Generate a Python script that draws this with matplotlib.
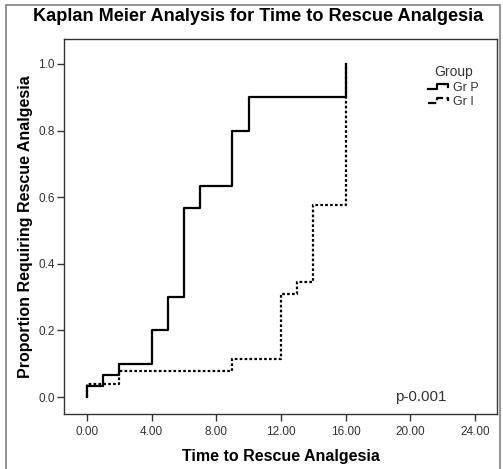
import matplotlib.pyplot as plt
from matplotlib.legend_handler import HandlerBase
from matplotlib.lines import Line2D
from matplotlib.patches import Rectangle

plt.rcParams["font.family"] = ["Liberation Sans", "DejaVu Sans"]

# Kaplan-Meier steps (time, cumulative proportion requiring rescue analgesia)
time_p = [0, 0, 1, 2, 4, 5, 6, 7, 9, 10, 16, 16]
prop_p = [0, 0.033, 0.067, 0.1, 0.2, 0.3, 0.567, 0.633, 0.8, 0.9, 0.9, 1.0]

time_i = [0, 0, 2, 9, 12, 13, 14, 16, 16]
prop_i = [0, 0.038, 0.077, 0.115, 0.308, 0.346, 0.577, 0.577, 1.0]

groups = ["Gr P", "Gr I"]
x_ticks = [0, 4, 8, 12, 16, 20, 24]
y_ticks = [0.0, 0.2, 0.4, 0.6, 0.8, 1.0]


class StepHandler(HandlerBase):
    # small step glyph like the SPSS legend
    def create_artists(self, legend, orig, xd, yd, w, h, fontsize, trans):
        xs = [xd, xd + 0.45 * w, xd + 0.45 * w, xd + w, xd + w]
        ys = [yd + 0.2 * h, yd + 0.2 * h, yd + 0.8 * h, yd + 0.8 * h, yd + 0.45 * h]
        ln = Line2D(xs, ys, color="black", lw=orig.get_linewidth(),
                    linestyle=orig.get_linestyle(), transform=trans)
        return [ln]


fig = plt.figure(figsize=(5.03, 4.69), dpi=100)
fig.patches.append(Rectangle((6 / 503, -0.05), 494 / 503, 1 - 5 / 469 + 0.05,
                             transform=fig.transFigure, fill=False,
                             edgecolor="#808080", lw=1.2))
ax = fig.add_axes([64 / 503, 1 - 414 / 469, 433 / 503, 375 / 469])

lp, = ax.step(time_p, prop_p, where="post", color="black", lw=1.6, label=groups[0])
li, = ax.step(time_i, prop_i, where="post", color="black", lw=1.6,
              linestyle=(0, (1.2, 1.0)), label=groups[1])

ax.set_xlim(-1.42, 25.36)
ax.set_ylim(-0.051, 1.075)
ax.set_xticks(x_ticks)
ax.set_xticklabels([f"{v:.2f}" for v in x_ticks])
ax.set_yticks(y_ticks)
ax.set_yticklabels([f"{v:.1f}" for v in y_ticks])
ax.tick_params(direction="out", length=5, width=1, labelsize=8.5,
               labelcolor="#333333", color="#333333")
ax.tick_params(axis="y", pad=1.5)
for s in ax.spines.values():
    s.set_color("#333333")
    s.set_linewidth(1)

ax.set_xlabel("Time to Rescue Analgesia", fontsize=11.5, fontweight="bold", labelpad=8)
ax.set_ylabel("Proportion Requiring Rescue Analgesia", fontsize=11.5, fontweight="bold", labelpad=4)
fig.suptitle("Kaplan Meier Analysis for Time to Rescue Analgesia", fontsize=13.1,
             fontweight="bold", x=0.513, y=0.982)

ax.text(20.65, 0.0, "p-0.001", fontsize=11, color="#333333", ha="center", va="center")

leg = ax.legend(handles=[lp, li], title="Group", loc="upper right",
                bbox_to_anchor=(0.972, 0.947), frameon=False, fontsize=9,
                title_fontsize=10, handlelength=1.6, handletextpad=0.4,
                labelspacing=0.2, borderpad=0, handler_map={Line2D: StepHandler()})
leg.get_title().set_color("#333333")
for t in leg.get_texts():
    t.set_color("#333333")

fig.savefig("out.png", dpi=100)
